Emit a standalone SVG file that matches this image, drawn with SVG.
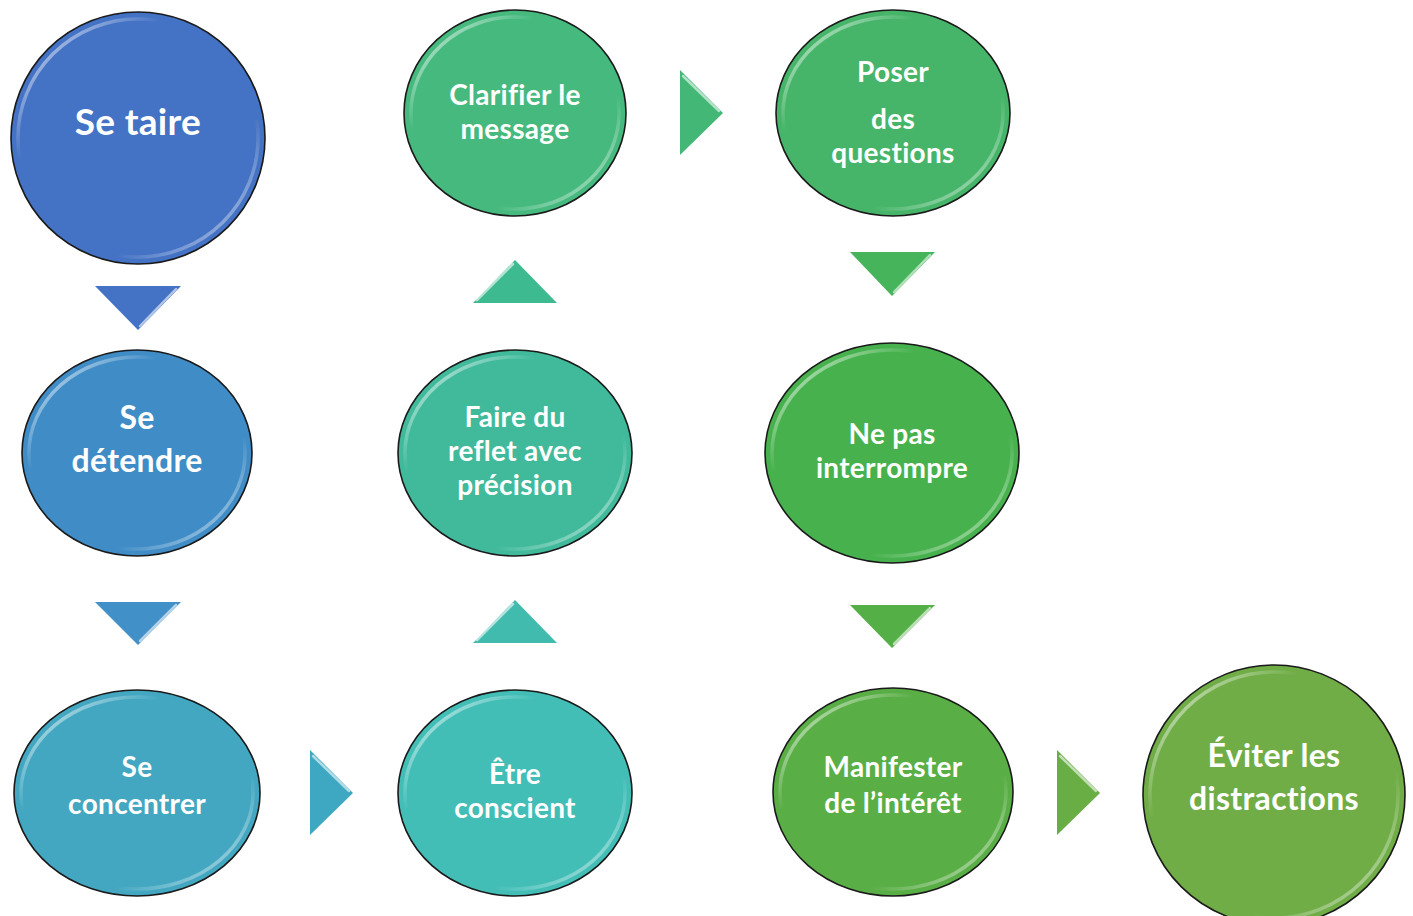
<svg xmlns="http://www.w3.org/2000/svg" width="1413" height="916" viewBox="0 0 1413 916">
<defs>
<linearGradient id="hl" x1="0" y1="0" x2="1" y2="1">
<stop offset="0" stop-color="#fff" stop-opacity="0.85"/>
<stop offset="0.3" stop-color="#fff" stop-opacity="0"/>
<stop offset="0.7" stop-color="#fff" stop-opacity="0"/>
<stop offset="1" stop-color="#fff" stop-opacity="0.7"/>
</linearGradient>
</defs>
<style>
.c{stroke:#1a1a1a;stroke-width:1.6}
.h{fill:none;stroke:url(#hl);stroke-width:3.5}
.t{font-family:Lato,"Open Sans","Liberation Sans",sans-serif;font-weight:bold;fill:#fff;text-anchor:middle;letter-spacing:0.3px}
.g{fill:none;stroke:#fff;stroke-opacity:0.6;stroke-width:2.5;stroke-linecap:round}
</style>
<rect width="1413" height="916" fill="#fff"/>
<g id="connectors">
<g><polygon points="95,286 181,286 138,330" fill="#4472C4"/><line class="g" x1="176" y1="289" x2="140" y2="326"/></g>
<g><polygon points="95,602 181,602 138,645" fill="#4190C7"/><line class="g" x1="176" y1="605" x2="140" y2="641"/></g>
<g><polygon points="310,750 310,835 353,793" fill="#3EA8C2"/><line class="g" x1="313" y1="756" x2="349" y2="791"/></g>
<g><polygon points="473,643 557,643 515,600" fill="#40BBAE"/><line class="g" x1="477" y1="640" x2="513" y2="604"/></g>
<g><polygon points="473,303 557,303 515,260" fill="#3EBA90"/><line class="g" x1="477" y1="300" x2="513" y2="264"/></g>
<g><polygon points="680,70 680,155 723,113" fill="#43B776"/><line class="g" x1="683" y1="76" x2="719" y2="111"/></g>
<g><polygon points="850,252 935,252 892,296" fill="#45B45A"/><line class="g" x1="930" y1="255" x2="894" y2="292"/></g>
<g><polygon points="850,605 935,605 892,648" fill="#55AF47"/><line class="g" x1="930" y1="608" x2="894" y2="644"/></g>
<g><polygon points="1057,750 1057,835 1100,793" fill="#69AD45"/><line class="g" x1="1060" y1="756" x2="1096" y2="791"/></g>
</g>
<g id="n1"><ellipse class="c" cx="138" cy="138" rx="127" ry="126" fill="#4472C4"/><ellipse class="h" cx="138" cy="138" rx="120" ry="119"/><text class="t" x="138" y="135" font-size="37">Se taire</text></g>
<g id="n2"><ellipse class="c" cx="137" cy="453" rx="115" ry="103" fill="#3F8CC6"/><ellipse class="h" cx="137" cy="453" rx="108" ry="96"/><text class="t" font-size="32"><tspan x="137" y="429">Se</tspan><tspan x="137" y="472">détendre</tspan></text></g>
<g id="n3"><ellipse class="c" cx="137" cy="793" rx="123" ry="103" fill="#43A7C1"/><ellipse class="h" cx="137" cy="793" rx="116" ry="96"/><text class="t" font-size="28"><tspan x="137" y="777">Se</tspan><tspan x="137" y="814">concentrer</tspan></text></g>
<g id="n4"><ellipse class="c" cx="515" cy="793" rx="117" ry="103" fill="#42BEB7"/><ellipse class="h" cx="515" cy="793" rx="110" ry="96"/><text class="t" font-size="28"><tspan x="515" y="784">Être</tspan><tspan x="515" y="818">conscient</tspan></text></g>
<g id="n5"><ellipse class="c" cx="515" cy="453" rx="117" ry="103" fill="#40BA9B"/><ellipse class="h" cx="515" cy="453" rx="110" ry="96"/><text class="t" font-size="28"><tspan x="515" y="427">Faire du</tspan><tspan x="515" y="461">reflet avec</tspan><tspan x="515" y="495">précision</tspan></text></g>
<g id="n6"><ellipse class="c" cx="515" cy="113" rx="111" ry="103" fill="#45B97E"/><ellipse class="h" cx="515" cy="113" rx="104" ry="96"/><text class="t" font-size="28"><tspan x="515" y="105">Clarifier le</tspan><tspan x="515" y="139">message</tspan></text></g>
<g id="n7"><ellipse class="c" cx="893" cy="113" rx="117" ry="103" fill="#46B569"/><ellipse class="h" cx="893" cy="113" rx="110" ry="96"/><text class="t" font-size="28"><tspan x="893" y="82">Poser</tspan><tspan x="893" y="129">des</tspan><tspan x="893" y="163">questions</tspan></text></g>
<g id="n8"><ellipse class="c" cx="892" cy="453" rx="127" ry="110" fill="#47B24D"/><ellipse class="h" cx="892" cy="453" rx="120" ry="103"/><text class="t" font-size="28"><tspan x="892" y="444">Ne pas</tspan><tspan x="892" y="478">interrompre</tspan></text></g>
<g id="n9"><ellipse class="c" cx="893" cy="792" rx="120" ry="104" fill="#5AAE46"/><ellipse class="h" cx="893" cy="792" rx="113" ry="97"/><text class="t" font-size="28"><tspan x="893" y="777">Manifester</tspan><tspan x="893" y="813">de l’intérêt</tspan></text></g>
<g id="n10"><ellipse class="c" cx="1274" cy="795" rx="131" ry="130" fill="#70AD47"/><ellipse class="h" cx="1274" cy="795" rx="124" ry="123"/><text class="t" font-size="32"><tspan x="1274" y="767">Éviter les</tspan><tspan x="1274" y="810">distractions</tspan></text></g>
</svg>
